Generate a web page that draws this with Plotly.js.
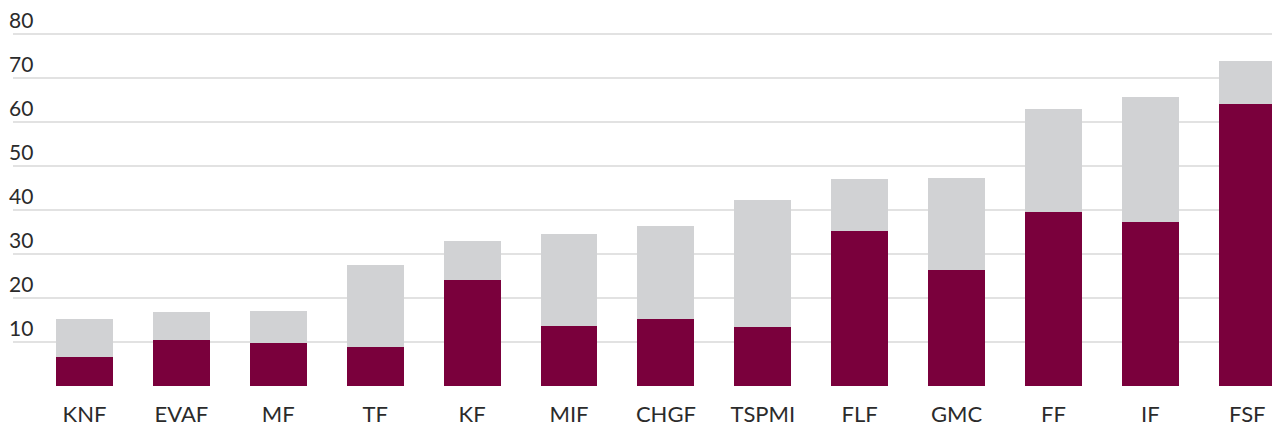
<!DOCTYPE html>
<html>
<head>
<meta charset="utf-8">
<script src="https://cdn.plot.ly/plotly-3.0.1.min.js"></script>
<style>html,body{margin:0;padding:0;background:#fff;}#chart{width:1272px;height:428px;}</style>
</head>
<body>
<div id="chart"></div>
<script>
var categories = ["KNF","EVAF","MF","TF","KF","MIF","CHGF","TSPMI","FLF","GMC","FF","IF","FSF"];
var lowerValues = [6.6,10.5,9.8,8.9,24.1,13.6,15.2,13.4,35.2,26.4,39.5,37.3,64.1];
var upperValues = [8.6,6.3,7.2,18.6,8.9,20.9,21.2,28.9,11.8,20.9,23.5,28.4,9.8];
var yTickVals = [10,20,30,40,50,60,70,80];

var traces = [
  {type:"bar", x:categories, y:lowerValues, marker:{color:"#7A003C"}, hoverinfo:"none", showlegend:false},
  {type:"bar", x:categories, y:upperValues, marker:{color:"#D1D2D4"}, hoverinfo:"none", showlegend:false}
];

var layout = {
  width:1272, height:428,
  margin:{l:13, r:0, t:32, b:42},
  barmode:"stack",
  bargap:0.412,
  paper_bgcolor:"#fff", plot_bgcolor:"#fff",
  font:{family:"Lato, sans-serif", size:21, color:"#2b2b2b"},
  showlegend:false,
  xaxis:{
    type:"category",
    range:[-0.738, 12.255],
    showgrid:false, zeroline:false, showline:false, ticks:"",
    tickfont:{size:22, color:"#2b2b2b"},
    ticklabelstandoff:13
  },
  yaxis:{
    range:[0,80.45],
    tickvals:yTickVals,
    showgrid:true, gridcolor:"#e2e2e2", gridwidth:1.5,
    zeroline:false, showline:false, ticks:"",
    ticklabelposition:"inside",
    ticklabeloverflow:"allow",
    ticklabelshift:-13,
    ticklabelstandoff:-7,
    tickfont:{size:21, color:"#2b2b2b"}
  }
};

Plotly.newPlot("chart", traces, layout, {staticPlot:true, displayModeBar:false});
</script>
</body>
</html>
